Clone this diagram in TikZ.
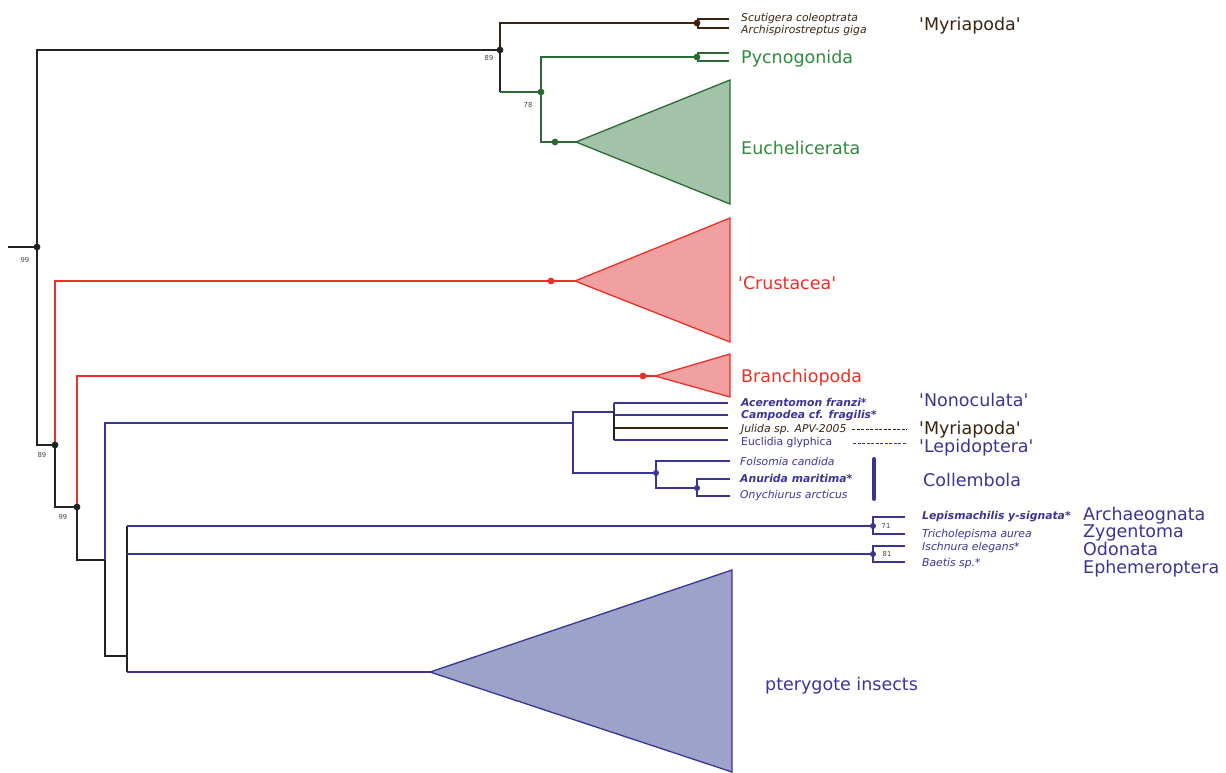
\documentclass[tikz,border=0pt]{standalone}
\usepackage{fontspec}
\setmainfont{DejaVu Sans}[Ligatures=TeXOff]
\definecolor{tblack}{HTML}{222222}
\definecolor{tbrown}{HTML}{3A2410}
\definecolor{tgreen}{HTML}{2A6A32}
\definecolor{tgreentxt}{HTML}{2E8B3C}
\definecolor{tgreenfill}{HTML}{A3C3A8}
\definecolor{tred}{HTML}{EA3028}
\definecolor{tredfill}{HTML}{F0A0A0}
\definecolor{tblue}{HTML}{3A3494}
\definecolor{tbluefill}{HTML}{9CA2C8}
\definecolor{tgray}{HTML}{444444}
\begin{document}
\begin{tikzpicture}[x=1pt,y=-1pt,
  edge/.style={line width=1.9pt},
  fork/.style={line width=1.7pt},
  dot/.style={circle,fill,inner sep=0pt,minimum size=6.8pt},
  big/.style={font=\fontsize{17.5}{20}\selectfont,anchor=base west,inner sep=0pt},
  small/.style={font=\fontsize{10.8}{12}\selectfont\itshape,anchor=base west,inner sep=0pt},
  smallup/.style={font=\fontsize{10.8}{12}\selectfont,anchor=base west,inner sep=0pt},
  smallbf/.style={font=\fontsize{10.8}{12}\selectfont\bfseries\itshape,anchor=base west,inner sep=0pt},
  boot/.style={font=\fontsize{6.8}{8}\selectfont,text=tgray,inner sep=0pt},
  tri/.style={line width=1.3pt}]
\useasboundingbox (0,0) rectangle (1226,772);

% ---------- coordinates ----------
\coordinate (r0) at (8,247);
\coordinate (r) at (37,247);
\coordinate (n89a) at (500,50);
\coordinate (k1) at (500,92);
\coordinate (myr) at (697,23);
\coordinate (n78) at (541,92);
\coordinate (pyc) at (697,57);
\coordinate (eucA) at (576,142);
\coordinate (n89b) at (55,445);
\coordinate (cruA) at (575,281);
\coordinate (n99) at (77,507);
\coordinate (braA) at (655,376);
\coordinate (j1) at (105,560);
\coordinate (j2) at (127,656);
\coordinate (j2t) at (127,526);
\coordinate (j2m) at (127,554);
\coordinate (j2b) at (127,672);
\coordinate (ptA) at (430,672);
\coordinate (nc) at (573,423);
\coordinate (non) at (614,412);
\coordinate (col) at (656,473);
\coordinate (col2) at (697,488);
\coordinate (l71) at (873,526);
\coordinate (l81) at (873,554);

% ---------- backbone ----------
\draw[edge,tblack] (r0) -- (r);
\draw[edge,tblack,line join=miter] (r) |- (n89a);
\draw[edge,tblack,line join=miter] (r) |- (n89b);

% Myriapoda top
\draw[edge,tbrown,line join=miter] (n89a) |- (myr);
\draw[fork,tbrown,line join=miter] (729,19) -- (698,19) -- (698,28) -- (729,28);
% Chelicerata
\draw[edge,tblack] (n89a) -- (k1);
\draw[edge,tgreen] (k1) -- (n78);
\draw[edge,tgreen,line join=miter] (n78) |- (pyc);
\draw[fork,tgreen,line join=miter] (729,53) -- (698,53) -- (698,61) -- (729,61);
\draw[edge,tgreen,line join=miter] (n78) |- (eucA);
\draw[tri,tgreen,fill=tgreenfill,line join=miter] (eucA) -- (730,80) -- (730,204) -- cycle;

% Crustacea
\draw[edge,tred,line join=miter] (n89b) |- (cruA);
\draw[tri,tred,fill=tredfill,line join=miter] (cruA) -- (730,218) -- (730,342) -- cycle;
\draw[edge,tblack,line join=miter] (n89b) |- (n99);
\draw[edge,tred,line join=miter] (n99) |- (braA);
\draw[tri,tred,fill=tredfill,line join=miter] (braA) -- (730,354) -- (730,397) -- cycle;
\draw[edge,tblack,line join=miter] (n99) |- (j1);

% Hexapoda
\draw[edge,tblue,line join=miter] (j1) |- (nc);
\draw[edge,tblack,line join=miter] (j1) |- (j2);
\draw[edge,tblack] (j2t) -- (j2b);
\draw[edge,tblue] (j2t) -- (l71);
\draw[edge,tblue] (j2m) -- (l81);
\draw[edge,tblue] (j2b) -- (ptA);
\draw[tri,tblue,fill=tbluefill,line join=miter] (ptA) -- (732,570) -- (732,772) -- cycle;

% Nonoculata group
\draw[edge,tblue,line join=miter] (nc) |- (non);
\draw[edge,tblue,line join=miter] (nc) |- (col);
\draw[fork,tblue] (614,403) -- (non);
\draw[fork,tblack] (non) -- (614,440);
\draw[fork,tblue] (614,403) -- (728,403);
\draw[fork,tblue] (614,415) -- (728,415);
\draw[fork,tbrown] (614,428) -- (728,428);
\draw[fork,tblue] (614,440) -- (728,440);

% Collembola
\draw[fork,tblue,line join=miter] (730,461) -- (656,461) -- (656,488) -- (col2);
\draw[fork,tblue,line join=miter] (730,479) -- (697,479) -- (697,496) -- (730,496);
\draw[tblue,line width=4pt,line cap=round] (874,459) -- (874,499);

% dashed pointers
\draw[tbrown,line width=1pt,dash pattern=on 3pt off 1.5pt] (852,429) -- (907,429);
\draw[tblue,line width=1pt,dash pattern=on 3pt off 1.5pt] (853,443) -- (907,443);

% Archaeognata etc forks
\draw[fork,tblue,line join=miter] (905,517) -- (873,517) -- (873,534) -- (905,534);
\draw[fork,tblue,line join=miter] (905,546) -- (873,546) -- (873,562) -- (905,562);

% ---------- dots ----------
\node[dot,tblack] (d0) at (r) {};
\node[dot,tblack] (d1) at (n89a) {};
\node[dot,tbrown] (d2) at (myr) {};
\node[dot,tgreen] (d3) at (n78) {};
\node[dot,tgreen] (d4) at (pyc) {};
\node[dot,tgreen] (d5) at (555,142) {};
\node[dot,tblack] (d6) at (n89b) {};
\node[dot,tred] (d7) at (551,281) {};
\node[dot,tblack] (d8) at (n99) {};
\node[dot,tred] (d9) at (643,376) {};
\node[dot,tblue,minimum size=6pt] (d10) at (col) {};
\node[dot,tblue,minimum size=6pt] (d11) at (col2) {};
\node[dot,tblue,minimum size=6pt] (d12) at (l71) {};
\node[dot,tblue,minimum size=6pt] (d13) at (l81) {};

% ---------- bootstrap labels ----------
\node[boot] (b1) at (25,260) {99};
\node[boot] (b2) at (489,58) {89};
\node[boot] (b3) at (528,105) {78};
\node[boot] (b4) at (42,455) {89};
\node[boot] (b5) at (63,517) {99};
\node[boot] (b6) at (886,526) {71};
\node[boot] (b7) at (887,554) {81};

% ---------- labels ----------
\node[small,text=tbrown] (tScu) at (741,21) {Scutigera coleoptrata};
\node[small,text=tbrown] (tArc) at (741,33) {Archispirostreptus giga};
\node[big,text=tbrown] (tMyr1) at (919,30) {'Myriapoda'};
\node[big,text=tgreentxt] (tPyc) at (741,63) {Pycnogonida};
\node[big,text=tgreentxt] (tEuc) at (741,154) {Euchelicerata};
\node[big,text=tred] (tCru) at (738,289) {'Crustacea'};
\node[big,text=tred] (tBra) at (741,382) {Branchiopoda};
\node[smallbf,text=tblue] (tAce) at (741,406) {Acerentomon franzi*};
\node[smallbf,text=tblue] (tCam) at (741,418) {Campodea cf. fragilis*};
\node[small,text=tbrown] (tJul) at (741,432) {Julida sp. APV-2005};
\node[smallup,text=tblue] (tEug) at (741,445) {Euclidia glyphica};
\node[big,text=tblue] (tNon) at (919,406) {'Nonoculata'};
\node[big,text=tbrown] (tMyr2) at (919,434) {'Myriapoda'};
\node[big,text=tblue] (tLep) at (919,452) {'Lepidoptera'};
\node[small,text=tblue] (tFol) at (740,465) {Folsomia candida};
\node[smallbf,text=tblue] (tAnu) at (740,482) {Anurida maritima*};
\node[small,text=tblue] (tOny) at (740,498) {Onychiurus arcticus};
\node[big,text=tblue] (tCol) at (923,486) {Collembola};
\node[smallbf,text=tblue] (tLsm) at (922,519) {Lepismachilis y-signata*};
\node[small,text=tblue] (tTri) at (922,537) {Tricholepisma aurea};
\node[small,text=tblue] (tIsc) at (922,550) {Ischnura elegans*};
\node[small,text=tblue] (tBae) at (922,566) {Baetis sp.*};
\node[big,text=tblue] (tArch) at (1083,520) {Archaeognata};
\node[big,text=tblue] (tZyg) at (1083,537) {Zygentoma};
\node[big,text=tblue] (tOdo) at (1083,555) {Odonata};
\node[big,text=tblue] (tEph) at (1083,573) {Ephemeroptera};
\node[big,text=tblue] (tPte) at (765,690) {pterygote insects};
\end{tikzpicture}
\end{document}
